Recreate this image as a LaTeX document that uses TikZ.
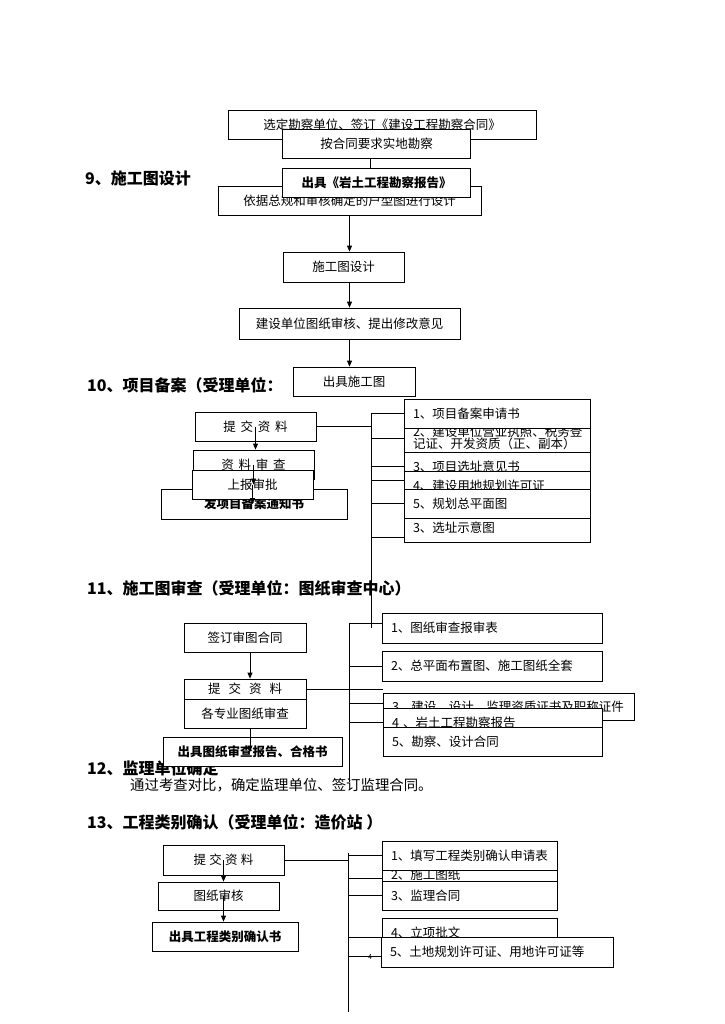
\documentclass[tikz,border=0pt]{standalone}
\usepackage{fontspec}
\setmainfont{Noto Sans CJK SC}
\usetikzlibrary{arrows.meta}

\tikzset{
  box/.style={draw, fill=white, line width=0.8pt, inner sep=1pt,
    font=\fontsize{12.5}{12.5}\selectfont},
  bbox/.style={box, font=\bfseries\fontsize{12.5}{12.5}\selectfont},
  lbox/.style={box, align=left, inner xsep=9pt},
  title/.style={anchor=west, inner sep=0pt, font=\bfseries\fontsize{16}{18}\selectfont},
  arr/.style={line width=0.8pt, -{Triangle[length=6pt,width=5pt]}},
  wire/.style={line width=0.8pt}
}

\begin{document}
\begin{tikzpicture}[x=1pt,y=-1pt]

        \useasboundingbox (0,0) rectangle (724,1024);

        % section titles
        \node[title] (t9)  at (85,178) {9、施工图设计};
        \node[title] (t10) at (87,385) {10、项目备案（受理单位：};
        \node[title] (t11) at (87,588) {11、施工图审查（受理单位：图纸审查中心）};
        \node[title] (t12) at (87,768) {12、监理单位确定};
        \node[anchor=west, inner sep=0pt, font=\fontsize{14.4}{16}\selectfont] (t12text) at (130,785)
          {通过考查对比，确定监理单位、签订监理合同。};
        \node[title] (t13) at (87,822) {13、工程类别确认（受理单位：造价站 ）};

        % survey and design
        \node[box, minimum width=308pt, minimum height=29pt] (contract) at (382,124.5)
          {选定勘察单位、签订《建设工程勘察合同》};
        \node[box, minimum width=188pt, minimum height=29pt] (fieldwork) at (376.7,143.5)
          {按合同要求实地勘察};
        \node[box, minimum width=263pt, minimum height=29pt] (design) at (349.5,200.5)
          {依据总规和审核确定的户型图进行设计};
        \node[bbox, minimum width=188pt, minimum height=29pt] (report) at (376.7,182.5)
          {出具《岩土工程勘察报告》};
        \node[box, minimum width=121pt, minimum height=30pt] (drawing) at (343.5,267)
          {施工图设计};
        \node[box, minimum width=221pt, minimum height=31pt] (ownercheck) at (349.5,323.5)
          {建设单位图纸审核、提出修改意见};
        \node[box, minimum width=122pt, minimum height=29pt] (issue) at (354,381.5)
          {出具施工图};

        \draw[wire] ([xshift=-6pt]fieldwork.south) -- ([xshift=-6pt]fieldwork.south |- report.north);
        \draw[arr] (design.south) -- (design.south |- drawing.north);
        \draw[arr] (design.south |- drawing.south) -- (design.south |- ownercheck.north);
        \draw[arr] (ownercheck.south) -- (ownercheck.south |- issue.north);

        % project filing
        \node[box, minimum width=121pt, minimum height=29pt] (submit10) at (255.5,426.5)
          {提\hspace{4.7pt}交\hspace{4.7pt}资\hspace{4.7pt}料};
        \node[box, minimum width=121pt, minimum height=29pt] (check10) at (253.5,464.5)
          {资\hspace{4.7pt}料\hspace{4.7pt}审\hspace{4.7pt}查};
        \node[bbox, minimum width=186pt, minimum height=30pt] (notice10) at (254,504)
          {发项目备案通知书};
        \node[box, minimum width=121pt, minimum height=29pt] (approve10) at (252.5,484.5)
          {上报审批};

        \node[lbox, text width=168pt, minimum height=28pt] (doc10b) at (497,438)
          {2、建设单位营业执照、税务登\\记证、开发资质（正、副本）};
        \node[lbox, text width=168pt, minimum height=29pt] (doc10a) at (497,413.5)
          {1、项目备案申请书};
        \node[lbox, text width=168pt, minimum height=29pt] (doc10c) at (497,466.5)
          {3、项目选址意见书};
        \node[lbox, text width=168pt, minimum height=29pt] (doc10d) at (497,485.5)
          {4、建设用地规划许可证};
        \node[lbox, text width=168pt, minimum height=29pt] (doc10f) at (497,527.5)
          {3、选址示意图};
        \node[lbox, text width=168pt, minimum height=29pt] (doc10e) at (497,503.5)
          {5、规划总平面图};

        \draw[arr] (submit10.center) -- (submit10.center |- check10.north);
        \draw[arr] (check10.center) -- (check10.center |- approve10.center);
        \draw[arr] (approve10.center) -- (approve10.center |- notice10.center);

        \coordinate (bus10top) at (371,414);
        \coordinate (bus10end) at (371,628);
        \draw[wire] (bus10top) -- (bus10end);
        \draw[wire] (submit10.east) -- (submit10.east -| bus10top);
        \draw[wire] (bus10top |- doc10a.west) -- (doc10a.west);
        \draw[wire] (bus10top |- doc10b.west) -- (doc10b.west);
        \draw[wire] (bus10top |- doc10c.west) -- (doc10c.west);
        \draw[wire] ([yshift=5.5pt]doc10d.west) -- +(-33,0);
        \draw[wire] (bus10top |- doc10e.west) -- (doc10e.west);
        \draw[wire] ([yshift=-9.5pt]doc10f.west) -- +(-33,0);

        % drawing review
        \node[box, minimum width=122pt, minimum height=29pt] (sign11) at (245,637.5)
          {签订审图合同};
        \node[box, minimum width=122pt, minimum height=20pt] (submit11) at (245,689)
          {提\hspace{8pt}交\hspace{8pt}资\hspace{8pt}料};
        \node[box, minimum width=122pt, minimum height=29pt] (review11) at (245,713.5)
          {各专业图纸审查};
        \node[bbox, minimum width=179pt, minimum height=29pt] (result11) at (252.5,751.5)
          {出具图纸审查报告、合格书};

        \node[lbox, text width=202pt, minimum height=30pt] (doc11a) at (492,628)
          {1、图纸审查报审表};
        \node[lbox, text width=202pt, minimum height=30pt] (doc11b) at (492,666)
          {2、总平面布置图、施工图纸全套};
        \node[lbox, text width=233pt, minimum height=27pt] (doc11c) at (508.5,706.5)
          {3、建设、设计、监理资质证书及职称证件};
        \node[lbox, text width=201pt, minimum height=29pt] (doc11d) at (492.5,722.5)
          {4 、岩土工程勘察报告};
        \node[lbox, text width=201pt, minimum height=29pt] (doc11e) at (492.5,741.5)
          {5、勘察、设计合同};

        \draw[arr] ([xshift=5pt]sign11.south) -- ([xshift=5pt]sign11.south |- submit11.north);
        \draw[arr] ([xshift=5pt]review11.south) -- ([xshift=5pt]review11.south |- result11.center);

        \coordinate (bus11top) at (349,623);
        \coordinate (bus11end) at (349,782);
        \draw[wire] (bus11top) -- (bus11end);
        \draw[wire] (submit11.east) -- (submit11.east -| doc11c.west);
        \draw[wire] ([yshift=5pt]doc11a.west) -- +(-33,0);
        \draw[wire] (bus11top |- doc11b.west) -- (doc11b.west);
        \draw[wire] ([yshift=3.5pt]doc11c.west) -- +(-34,0);
        \draw[wire] (bus11top |- doc11d.west) -- (doc11d.west);

        % category confirmation
        \node[box, minimum width=121pt, minimum height=30pt] (submit13) at (223.5,860)
          {提\hspace{3.3pt}交\hspace{3.3pt}资\hspace{3.3pt}料};
        \node[box, minimum width=121pt, minimum height=28pt] (check13) at (218.5,896)
          {图纸审核};
        \node[bbox, minimum width=146pt, minimum height=29pt] (result13) at (225,936.5)
          {出具工程类别确认书};

        \node[lbox, text width=157pt, minimum height=29pt] (doc13b) at (469.5,874.5)
          {2、施工图纸};
        \node[lbox, text width=157pt, minimum height=29pt] (doc13a) at (469.5,855.5)
          {1、填写工程类别确认申请表};
        \node[lbox, text width=157pt, minimum height=29pt] (doc13c) at (469.5,895.5)
          {3、监理合同};
        \node[lbox, text width=157pt, minimum height=29pt] (doc13d) at (469.5,932.5)
          {4、立项批文};
        \node[lbox, text width=214pt, minimum height=30pt] (doc13e) at (497,952)
          {5、土地规划许可证、用地许可证等};

        \draw[arr] (submit13.center) -- (submit13.center |- check13.north);
        \draw[arr] (check13.center -| submit13.center) -- (submit13.center |- result13.north);

        \coordinate (bus13top) at (348,853);
        \coordinate (bus13end) at (348,1012);
        \draw[wire] (bus13top) -- (bus13end);
        \draw[wire] (submit13.east) -- (submit13.east -| bus13top);
        \draw[wire] (bus13top |- doc13a.west) -- (doc13a.west);
        \draw[wire] ([yshift=-3.5pt]doc13b.west) -- +(-34,0);
        \draw[wire] (bus13top |- doc13c.west) -- (doc13c.west);
        \draw[wire] ([yshift=-4.5pt]doc13d.west) -- +(-34,0);
        \draw[wire] ([yshift=-4pt]doc13e.west) -- +(-33,0);
        \node[inner sep=0pt, font=\fontsize{7}{8}\selectfont] (pagemark) at (370,957) {4};

      \end{tikzpicture}
\end{document}
